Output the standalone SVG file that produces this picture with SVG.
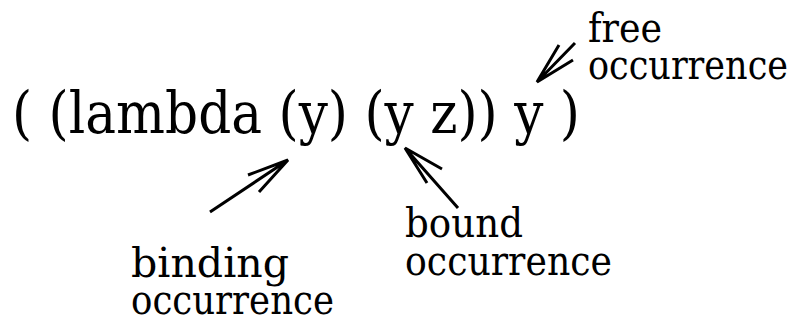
<svg xmlns="http://www.w3.org/2000/svg" width="799" height="320" viewBox="0 0 799 320">
<style>
text{font-family:"DejaVu Serif","Liberation Serif",serif;fill:#000}
.main{font-size:57px}
.lbl{font-size:41px}
.arr{stroke:#000;stroke-width:3;fill:none;stroke-linecap:butt}
</style>
<rect width="799" height="320" fill="#fff"/>
<g id="expression"><text class="main" x="12" y="133" xml:space="preserve" textLength="568" lengthAdjust="spacingAndGlyphs">( (lambda (y) (y z)) y )</text></g>
<g id="free-label"><text class="lbl" x="588" y="42" textLength="74" lengthAdjust="spacingAndGlyphs">free</text><text class="lbl" x="588" y="79" textLength="200" lengthAdjust="spacingAndGlyphs">occurrence</text></g>
<g id="bound-label"><text class="lbl" x="405" y="237" textLength="118" lengthAdjust="spacingAndGlyphs">bound</text><text class="lbl" x="405" y="275" textLength="207" lengthAdjust="spacingAndGlyphs">occurrence</text></g>
<g id="binding-label"><text class="lbl" x="131" y="277" textLength="158" lengthAdjust="spacingAndGlyphs">binding</text><text class="lbl" x="131" y="314" textLength="203" lengthAdjust="spacingAndGlyphs">occurrence</text></g>
<g id="connectors">
<path class="arr" d="M210,212 L288,160 M248,175 L288,160 L259,192"/>
<path class="arr" d="M458,208 L405,148 M442,169 L405,148 L427,183"/>
<path class="arr" d="M575,43 L537,82 M559,45 L537,82 L573,60"/>
</g>
</svg>
